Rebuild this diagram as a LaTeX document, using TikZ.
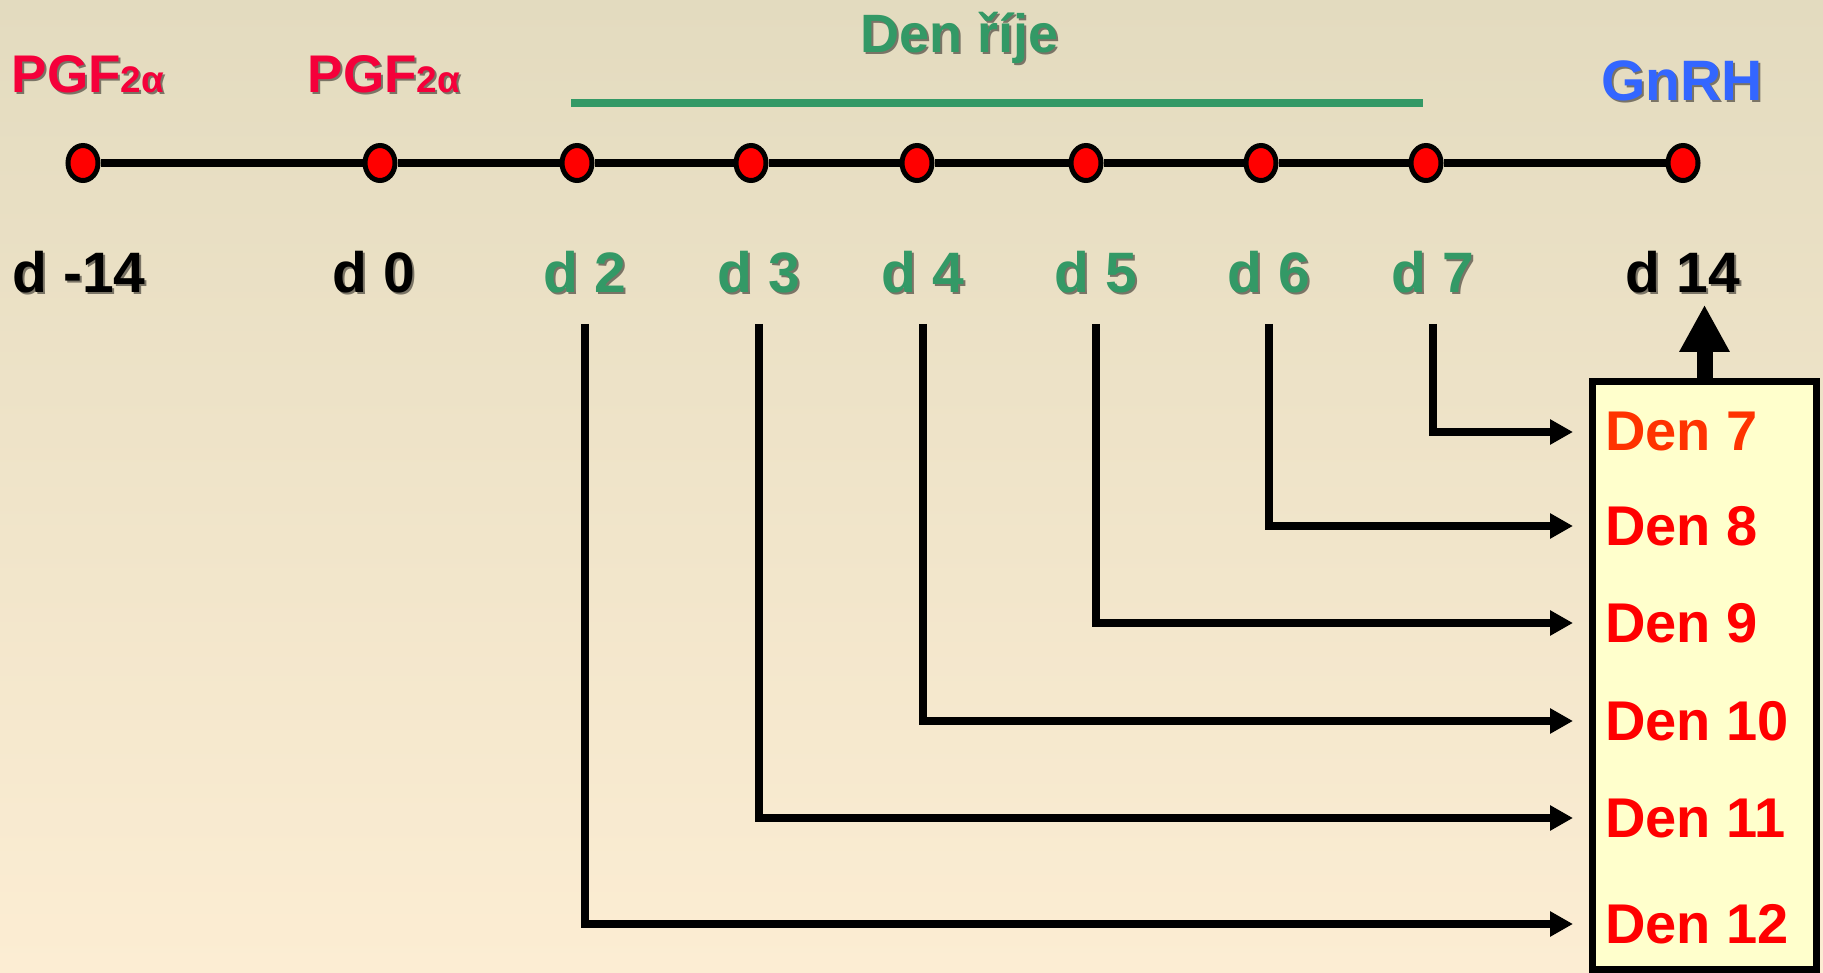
\documentclass[tikz,border=0pt]{standalone}
\usepackage{fontspec}
\setmainfont{Liberation Sans}
\usetikzlibrary{arrows.meta,shapes.geometric}
\definecolor{bgtop}{HTML}{E3DBBF}
\definecolor{bgbottom}{HTML}{FCEDD3}
\definecolor{rije}{HTML}{339966}
\definecolor{gnrhblue}{HTML}{3366FF}
\definecolor{pgfred}{HTML}{F5003A}
\definecolor{denorange}{HTML}{FF3300}
\definecolor{boxyellow}{HTML}{FFFFCC}
\definecolor{shadowgray}{HTML}{7A7466}
\newcommand{\shadowed}[1]{\makebox[0pt][l]{\hspace{2pt}\raisebox{-2pt}{\color{shadowgray}#1}}#1}
\newcommand{\prostlabel}{PGF{\fontsize{37}{40}\selectfont 2α}}

\begin{document}
\begin{tikzpicture}[x=1pt,y=-1pt,
  dot/.style={ellipse,draw,line width=5pt,fill=red,minimum width=30pt,minimum height=35pt,inner sep=0pt},
  lab/.style={anchor=base,inner sep=0pt,font=\fontsize{57}{60}\selectfont\bfseries},
  den/.style={anchor=west,inner xsep=32pt,inner ysep=0pt,font=\fontsize{56}{60}\selectfont\bfseries},
  conn/.style={line width=8pt,shorten <=29pt,-{Triangle[length=23pt,width=24pt]}}]
\useasboundingbox (0,0) rectangle (1823,972);
\fill[top color=bgtop,bottom color=bgbottom] (0,0) rectangle (1823,972);
\foreach \n/\x in {m14/83,0/380,2/577,3/751,4/917,5/1086,6/1261,7/1426,14/1683}
  \node[dot] (p\n) at (\x,163) {};
\foreach \a/\b in {m14/0,0/2,2/3,3/4,4/5,5/6,6/7,7/14}
  \draw[line width=8pt] (p\a) -- (p\b);
\foreach \n/\t/\x/\c in {m14/d -14/79/black,0/d 0/374/black,2/d 2/585/rije,3/d 3/759/rije,4/d 4/923/rije,5/d 5/1096/rije,6/d 6/1269/rije,7/d 7/1433/rije,14/d 14/1683/black}
  \node[lab,text=\c] (l\n) at (\x,292) {\shadowed{\t}};
\node[lab,text=pgfred,font=\fontsize{53}{56}\selectfont\bfseries] (pgfa) at (88,92) {\shadowed{\prostlabel}};
\node[lab,text=pgfred,font=\fontsize{53}{56}\selectfont\bfseries] (pgfb) at (384,92) {\shadowed{\prostlabel}};
\node[lab,text=rije,font=\fontsize{54}{58}\selectfont\bfseries] (rije) at (960,52) {\shadowed{Den říje}};
\node[lab,text=gnrhblue] (gnrh) at (1682,100) {\shadowed{GnRH}};
\draw[rije,line width=8pt] (571,103) -- (1423,103);
\node[draw,line width=7pt,fill=boxyellow,minimum width=224pt,minimum height=588pt,inner sep=0pt] (box) at (1704.5,675) {};
\draw[line width=16pt,-{Triangle[length=47pt,width=47pt]},shorten >=10pt] (box.north) -- (box.north |- l14.south);
\foreach \n/\y/\c in {7/432/denorange,8/526/red,9/623/red,10/721/red,11/818/red,12/924/red}
  \node[den,text=\c] (n\n) at (1573,\y) {Den \n};
\foreach \a/\b in {7/7,6/8,5/9,4/10,3/11,2/12}
  \draw[conn] (l\a.south) |- (n\b.west);
\end{tikzpicture}
\end{document}
